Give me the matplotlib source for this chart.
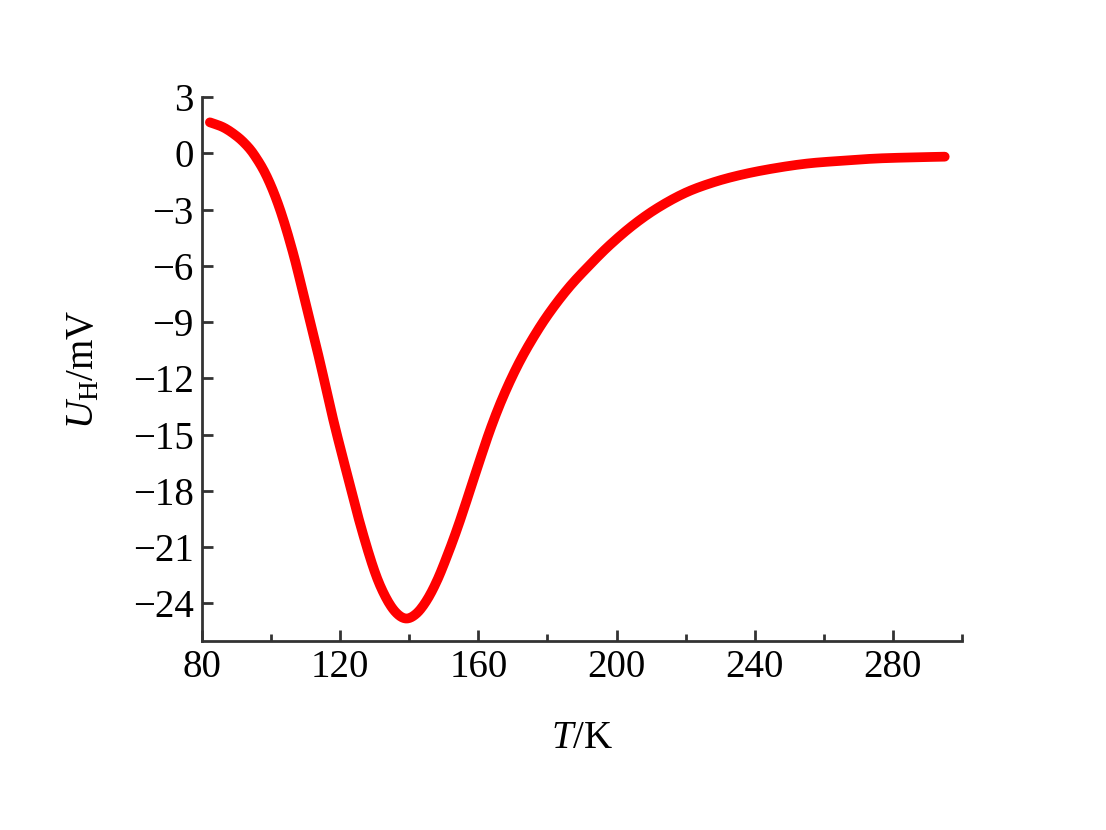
import numpy as np
import matplotlib
matplotlib.use("Agg")
import matplotlib.pyplot as plt
from matplotlib.ticker import MultipleLocator

# ------------------------------
# 데이터
# ------------------------------
T_K = [82.3, 86.0, 89.0, 92.0, 95.0, 98.8, 102.6, 106.5, 110.0, 114.0,
       118.0, 122.0, 126.0, 130.0, 133.0, 136.0, 139.0, 142.0, 145.0, 148.0,
       151.0, 154.0, 157.0, 160.0, 163.5, 167.0, 171.0, 175.0, 180.0, 186.0,
       192.0, 198.0, 205.0, 212.0, 220.0, 228.0, 236.0, 245.0, 255.0, 265.0,
       275.0, 285.0, 295.0]
U_H = [1.65, 1.40, 1.06, 0.60, -0.05, -1.25, -3.00, -5.40, -8.00, -11.00,
       -14.20, -17.10, -19.90, -22.30, -23.60, -24.45, -24.80, -24.55, -23.85, -22.80,
       -21.45, -19.95, -18.30, -16.60, -14.70, -13.05, -11.45, -10.10, -8.65, -7.20,
       -6.00, -4.90, -3.80, -2.90, -2.10, -1.55, -1.15, -0.82, -0.55, -0.40,
       -0.28, -0.22, -0.18]

x_ticks = [80, 120, 160, 200, 240, 280]
y_ticks = [3, 0, -3, -6, -9, -12, -15, -18, -21, -24]

# ------------------------------
# 폰트 설정
# ------------------------------
plt.rcParams['font.family'] = ['Liberation Serif', 'DejaVu Serif']
plt.rcParams['mathtext.fontset'] = 'custom'
plt.rcParams['mathtext.rm'] = 'Liberation Serif'
plt.rcParams['mathtext.it'] = 'Liberation Serif:italic'

fig = plt.figure(figsize=(11.06, 8.30), dpi=100)
ax = fig.add_axes([0.1826, 0.2277, 0.6872, 0.6554])

# 곡선을 부드럽게 (Hermite 보간)
def hermite(x, y, xs):
    x = np.asarray(x, float)
    y = np.asarray(y, float)
    n = len(x)
    m = np.empty(n)
    m[0] = (y[1] - y[0]) / (x[1] - x[0])
    m[-1] = (y[-1] - y[-2]) / (x[-1] - x[-2])
    m[1:-1] = (y[2:] - y[:-2]) / (x[2:] - x[:-2])
    out = np.empty_like(xs)
    for k, xv in enumerate(xs):
        i = min(max(np.searchsorted(x, xv) - 1, 0), n - 2)
        h = x[i + 1] - x[i]
        s = (xv - x[i]) / h
        out[k] = ((2 * s**3 - 3 * s**2 + 1) * y[i] + (s**3 - 2 * s**2 + s) * h * m[i]
                  + (-2 * s**3 + 3 * s**2) * y[i + 1] + (s**3 - s**2) * h * m[i + 1])
    return out

tt = np.linspace(T_K[0], T_K[-1], 800)
ax.plot(tt, hermite(T_K, U_H, tt), color='#ff0000', lw=7, solid_capstyle='round')

ax.set_xlim(80, 300)
ax.set_ylim(-26, 3)
ax.set_xticks(x_ticks)
ax.set_yticks(y_ticks)
ax.xaxis.set_minor_locator(MultipleLocator(20))

for side in ['top', 'right']:
    ax.spines[side].set_visible(False)
for side in ['left', 'bottom']:
    ax.spines[side].set_linewidth(2)
    ax.spines[side].set_color('#333333')

ax.tick_params(axis='both', which='major', direction='in', length=8, width=2,
               color='#333333', labelsize=28, pad=6)
ax.tick_params(axis='x', which='minor', direction='in', length=5, width=2,
               color='#333333')

ax.set_xlabel(r'$T$/K', fontsize=28, labelpad=24)
ax.set_ylabel(r'$U_{\mathrm{H}}$/mV', fontsize=28, labelpad=22)

plt.savefig('out.png', dpi=100)
